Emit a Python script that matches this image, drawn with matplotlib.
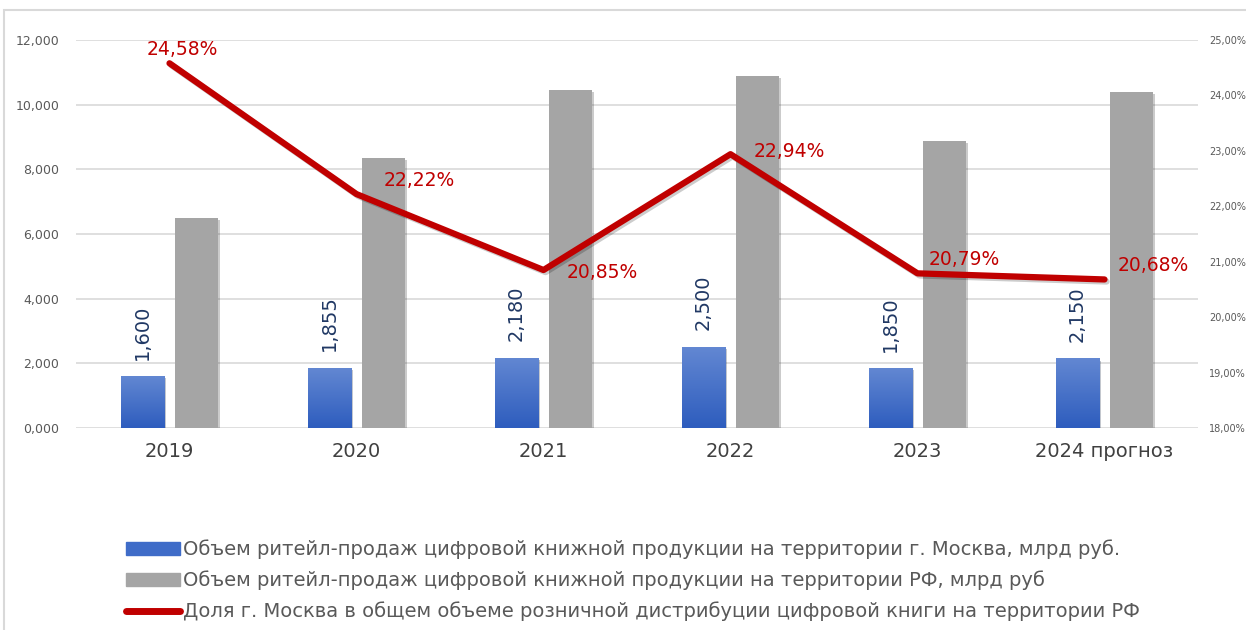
import matplotlib.pyplot as plt
import matplotlib.patheffects as pe
import numpy as np
from matplotlib.colors import LinearSegmentedColormap
from matplotlib.patches import Rectangle

years = ["2019", "2020", "2021", "2022", "2023", "2024 прогноз"]
moscow = [1600, 1855, 2180, 2500, 1850, 2150]
russia = [6500, 8350, 10450, 10900, 8880, 10400]
share = [24.58, 22.22, 20.85, 22.94, 20.79, 20.68]

label_moscow = "Объем ритейл-продаж цифровой книжной продукции на территории г. Москва, млрд руб."
label_russia = "Объем ритейл-продаж цифровой книжной продукции на территории РФ, млрд руб"
label_share = "Доля г. Москва в общем объеме розничной дистрибуции цифровой книги на территории РФ"

# offsets (points) for the red share labels
share_offsets = [(9, 10), (45, 10), (42, -2), (42, 2), (34, 10), (35, 10)]

plt.rcParams["font.family"] = ["DejaVu Sans"]

fig = plt.figure(figsize=(12.46, 6.30), dpi=100)
fig.patches.append(Rectangle((4 / 1246, -0.1), 1.2, 1.1 - 10 / 630, transform=fig.transFigure,
                             fill=False, edgecolor="#D9D9D9", linewidth=1.5))

ax = fig.add_axes([76 / 1246, 1 - 428 / 630, 1122 / 1246, 388 / 630])
x = np.arange(len(years))
w = 0.23
off = 0.144
shadow = [pe.SimplePatchShadow(offset=(1.5, -1.5), alpha=0.25), pe.Normal()]

# blue bars with a vertical gradient
blue_bars = ax.bar(x - off, moscow, w, color="#3F6CC8", zorder=2, path_effects=shadow)
grad = np.linspace(0, 1, 64).reshape(-1, 1)
cmap = LinearSegmentedColormap.from_list("b", ["#2E5DBE", "#6287D2"])
for b in blue_bars:
    x0, y0, bw, bh = b.get_x(), b.get_y(), b.get_width(), b.get_height()
    im = ax.imshow(grad, cmap=cmap, aspect="auto", origin="lower",
                   extent=(x0, x0 + bw, y0, y0 + bh), zorder=2.1)
    im.set_clip_path(b)

ax.bar(x + off, russia, w, color="#A5A5A5", zorder=2, path_effects=shadow)

for xi, v in zip(x, moscow):
    ax.annotate(f"{v:,}", (xi - off, v), xytext=(0, 12), textcoords="offset points",
                rotation=90, ha="center", va="bottom", fontsize=14, color="#203864")

ax.set_xlim(-0.5, len(years) - 0.5)
ax.set_ylim(0, 12000)
yt = np.arange(0, 12001, 2000)
ax.set_yticks(yt)
ax.set_yticklabels([f"{int(v):,}" if v else "0,000" for v in yt])
ax.set_xticks(x)
ax.set_xticklabels(years, fontsize=14, color="#404040")
ax.tick_params(axis="y", labelsize=9, labelcolor="#595959", length=0, pad=12)
ax.tick_params(axis="x", length=0, pad=10)
ax.grid(axis="y", color="#D9D9D9", linewidth=1.2, zorder=0)
for s in ax.spines.values():
    s.set_visible(False)

ax2 = ax.twinx()
ax2.plot(x, share, color="#C00000", linewidth=4.5, solid_capstyle="round", zorder=5,
         path_effects=[pe.SimpleLineShadow(offset=(1.5, -1.5), alpha=0.2), pe.Normal()])
ax2.set_ylim(18, 25)
rt = np.arange(18, 25.01, 1)
ax2.set_yticks(rt)
ax2.set_yticklabels([f"{v:.2f}%".replace(".", ",") for v in rt])
ax2.tick_params(axis="y", labelsize=7, labelcolor="#595959", length=0, pad=8)
for s in ax2.spines.values():
    s.set_visible(False)
for xi, v, o in zip(x, share, share_offsets):
    ax2.annotate(f"{v:.2f}%".replace(".", ","), (xi, v), xytext=o, textcoords="offset points",
                 ha="center", va="center", fontsize=13.5, color="#C00000")

handles = [Rectangle((0, 0), 1, 1, color="#3F6CC8"),
           Rectangle((0, 0), 1, 1, color="#A5A5A5"),
           plt.Line2D([0], [0], color="#C00000", linewidth=5, solid_capstyle="round")]
fig.legend(handles, [label_moscow, label_russia, label_share], loc="upper left",
           bbox_to_anchor=(116 / 1246, 1 - 530 / 630), frameon=False, fontsize=14,
           labelcolor="#595959", handlelength=2.8, handleheight=0.7, handletextpad=0.15,
           labelspacing=0.58, borderpad=0)

fig.savefig("out.png", dpi=100)
